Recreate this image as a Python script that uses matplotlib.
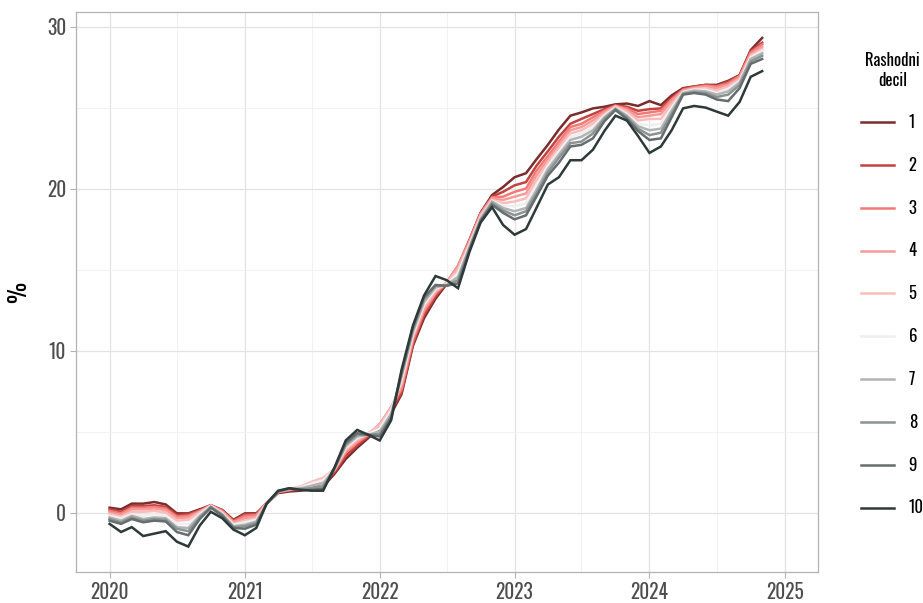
import matplotlib
matplotlib.use("Agg")
import matplotlib.pyplot as plt
import matplotlib.dates as mdates
from matplotlib.ticker import MultipleLocator
import pandas as pd

plt.rcParams['font.family'] = ['Oswald', 'Roboto Condensed', 'Liberation Sans Narrow', 'DejaVu Sans']

months = pd.date_range('2020-01-01', periods=59, freq='MS')

# godisnja stopa po rashodnom decilu, %
d1 = [0.3, 0.2, 0.55, 0.55, 0.65, 0.5, -0.05, -0.05, 0.2, 0.45, 0.15, -0.45,
      -0.05, -0.05, 0.55, 1.2, 1.3, 1.35, 1.45, 1.6, 2.4, 3.3, 4.0, 4.6,
      5.2, 6.1, 7.3, 10.3, 12.0, 13.2, 14.1, 15.1, 16.8, 18.5, 19.6, 20.1,
      20.7, 20.95, 21.8, 22.7, 23.65, 24.5, 24.7, 24.95, 25.05, 25.2, 25.25, 25.1,
      25.4, 25.15, 25.75, 26.2, 26.3, 26.4, 26.4, 26.65, 27.0, 28.55, 29.3]
d2 = [0.2, 0.05, 0.4, 0.4, 0.45, 0.35, -0.15, -0.1, 0.15, 0.45, 0.15, -0.5,
      -0.1, -0.1, 0.6, 1.25, 1.35, 1.45, 1.6, 1.8, 2.5, 3.5, 4.15, 4.7,
      5.35, 6.3, 7.4, 10.4, 12.2, 13.35, 14.15, 15.2, 16.85, 18.5, 19.5, 19.8,
      20.2, 20.4, 21.4, 22.3, 23.2, 24.0, 24.3, 24.6, 24.9, 25.15, 25.05, 24.8,
      24.9, 24.95, 25.6, 26.15, 26.3, 26.4, 26.35, 26.6, 27.0, 28.5, 29.0]
d3 = [0.1, -0.05, 0.3, 0.3, 0.35, 0.25, -0.25, -0.2, 0.1, 0.45, 0.1, -0.55,
      -0.2, -0.15, 0.6, 1.25, 1.4, 1.55, 1.75, 2.0, 2.6, 3.7, 4.3, 4.8,
      5.45, 6.5, 7.6, 10.6, 12.4, 13.5, 14.2, 15.25, 16.8, 18.45, 19.45, 19.5,
      19.8, 20.0, 21.1, 22.0, 22.9, 23.8, 24.0, 24.4, 24.8, 25.1, 24.95, 24.6,
      24.7, 24.8, 25.5, 26.1, 26.25, 26.35, 26.3, 26.5, 26.95, 28.4, 28.9]
d4 = [0.0, -0.15, 0.2, 0.2, 0.25, 0.15, -0.35, -0.3, 0.05, 0.45, 0.05, -0.6,
      -0.35, -0.25, 0.6, 1.3, 1.4, 1.6, 1.85, 2.1, 2.65, 3.8, 4.4, 4.85,
      5.45, 6.5, 7.8, 10.8, 12.55, 13.6, 14.2, 15.2, 16.7, 18.4, 19.4, 19.3,
      19.5, 19.7, 20.8, 21.8, 22.7, 23.6, 23.8, 24.2, 24.7, 25.1, 24.85, 24.4,
      24.5, 24.6, 25.4, 26.05, 26.2, 26.3, 26.2, 26.4, 26.85, 28.3, 28.75]
d5 = [-0.1, -0.25, 0.05, 0.05, 0.1, 0.0, -0.5, -0.45, 0.0, 0.4, 0.0, -0.7,
      -0.5, -0.35, 0.6, 1.3, 1.45, 1.6, 1.9, 2.15, 2.7, 3.9, 4.5, 4.9,
      5.4, 6.45, 8.0, 10.9, 12.7, 13.7, 14.15, 15.0, 16.6, 18.3, 19.3, 19.1,
      19.2, 19.4, 20.5, 21.6, 22.5, 23.4, 23.6, 24.0, 24.6, 25.05, 24.75, 24.2,
      24.3, 24.3, 25.2, 26.0, 26.15, 26.2, 26.05, 26.3, 26.75, 28.2, 28.6]
d6 = [-0.2, -0.35, -0.1, -0.2, -0.1, -0.2, -0.7, -0.7, -0.1, 0.4, -0.05, -0.75,
      -0.6, -0.45, 0.55, 1.3, 1.45, 1.55, 1.8, 2.0, 2.7, 4.0, 4.6, 4.85,
      5.2, 6.3, 8.2, 11.0, 12.85, 13.8, 14.1, 14.8, 16.5, 18.2, 19.25, 18.95,
      18.9, 19.1, 20.2, 21.4, 22.3, 23.2, 23.4, 23.8, 24.5, 25.0, 24.6, 24.0,
      23.9, 24.0, 25.0, 25.95, 26.1, 26.1, 25.9, 26.15, 26.65, 28.1, 28.5]
d7 = [-0.3, -0.5, -0.2, -0.4, -0.3, -0.35, -0.9, -0.95, -0.2, 0.35, -0.1, -0.85,
      -0.75, -0.55, 0.55, 1.3, 1.45, 1.5, 1.65, 1.8, 2.7, 4.1, 4.7, 4.8,
      5.0, 6.1, 8.4, 11.15, 13.0, 13.9, 14.05, 14.55, 16.4, 18.15, 19.2, 18.8,
      18.6, 18.8, 19.9, 21.2, 22.1, 23.0, 23.2, 23.6, 24.4, 24.95, 24.5, 23.85,
      23.6, 23.7, 24.8, 25.9, 26.05, 26.0, 25.8, 26.0, 26.55, 28.0, 28.35]
d8 = [-0.4, -0.6, -0.3, -0.5, -0.4, -0.45, -1.0, -1.15, -0.3, 0.35, -0.15, -0.9,
      -0.85, -0.65, 0.55, 1.3, 1.45, 1.45, 1.5, 1.6, 2.75, 4.2, 4.8, 4.8,
      4.85, 5.95, 8.5, 11.3, 13.15, 14.0, 14.0, 14.35, 16.3, 18.05, 19.1, 18.65,
      18.35, 18.6, 19.7, 21.0, 21.9, 22.8, 22.9, 23.4, 24.3, 24.9, 24.4, 23.7,
      23.3, 23.45, 24.6, 25.85, 25.95, 25.9, 25.65, 25.8, 26.4, 27.85, 28.2]
d9 = [-0.5, -0.7, -0.4, -0.6, -0.5, -0.55, -1.2, -1.4, -0.4, 0.3, -0.2, -0.95,
      -1.0, -0.75, 0.55, 1.3, 1.5, 1.4, 1.4, 1.45, 2.75, 4.3, 4.9, 4.8,
      4.7, 5.85, 8.65, 11.45, 13.3, 14.05, 14.0, 14.15, 16.2, 18.0, 19.0, 18.5,
      18.1, 18.35, 19.5, 20.8, 21.6, 22.6, 22.7, 23.1, 24.15, 24.85, 24.3, 23.55,
      23.0, 23.1, 24.4, 25.8, 25.9, 25.8, 25.5, 25.4, 26.2, 27.7, 28.0]
d10 = [-0.7, -1.2, -0.9, -1.45, -1.3, -1.15, -1.8, -2.1, -0.8, 0.05, -0.35, -1.05,
       -1.4, -0.95, 0.55, 1.35, 1.5, 1.4, 1.35, 1.35, 2.8, 4.45, 5.1, 4.8,
       4.45, 5.7, 8.8, 11.55, 13.4, 14.6, 14.35, 13.85, 16.1, 17.9, 18.85, 17.75,
       17.15, 17.5, 18.8, 20.25, 20.7, 21.75, 21.75, 22.4, 23.55, 24.5, 24.2, 23.25,
       22.2, 22.6, 23.6, 24.95, 25.1, 25.0, 24.75, 24.5, 25.35, 26.9, 27.25]

series = [d1, d2, d3, d4, d5, d6, d7, d8, d9, d10]
labels = ['1', '2', '3', '4', '5', '6', '7', '8', '9', '10']
colors = ['#7b2c2d', '#c2433f', '#f27a76', '#f79b9a', '#fbbdbc',
          '#efefef', '#b1b4b4', '#8c9292', '#656d6e', '#2e393a']

fig = plt.figure(figsize=(9.23, 6.03), dpi=100)
ax = fig.add_axes([0.0823, 0.0514, 0.8039, 0.9287])

for vals, lab, col in zip(series, labels, colors):
    ax.plot(months, vals, color=col, lw=1.8, label=lab, solid_joinstyle='miter')

ax.set_xlim(pd.Timestamp('2019-10-02'), pd.Timestamp('2025-04-01'))
ax.set_ylim(-3.67, 30.9)
ax.xaxis.set_major_locator(mdates.YearLocator())
ax.xaxis.set_major_formatter(mdates.DateFormatter('%Y'))
ax.xaxis.set_minor_locator(mdates.MonthLocator(bymonth=7))
ax.yaxis.set_major_locator(MultipleLocator(10))
ax.yaxis.set_minor_locator(MultipleLocator(5))

ax.grid(True, which='major', color='#e3e3e3', lw=0.9)
ax.grid(True, which='minor', color='#f0f0f0', lw=0.6)
ax.set_axisbelow(True)
for s in ax.spines.values():
    s.set_color('#b3b3b3')
    s.set_linewidth(0.9)
ax.tick_params(which='major', length=4, color='#b3b3b3', labelsize=14,
               labelcolor='#4d4d4d', pad=3)
ax.tick_params(which='minor', length=0)
ax.set_ylabel('%', fontsize=17, labelpad=12)

leg = ax.legend(title='Rashodni\ndecil', loc='upper left', bbox_to_anchor=(1.038, 0.955),
                frameon=False, fontsize=12, title_fontsize=12,
                handlelength=2.0, labelspacing=1.55, handletextpad=0.85)
leg.get_title().set_multialignment('center')
leg._legend_box.sep = 18

fig.savefig('out.png', dpi=100)
